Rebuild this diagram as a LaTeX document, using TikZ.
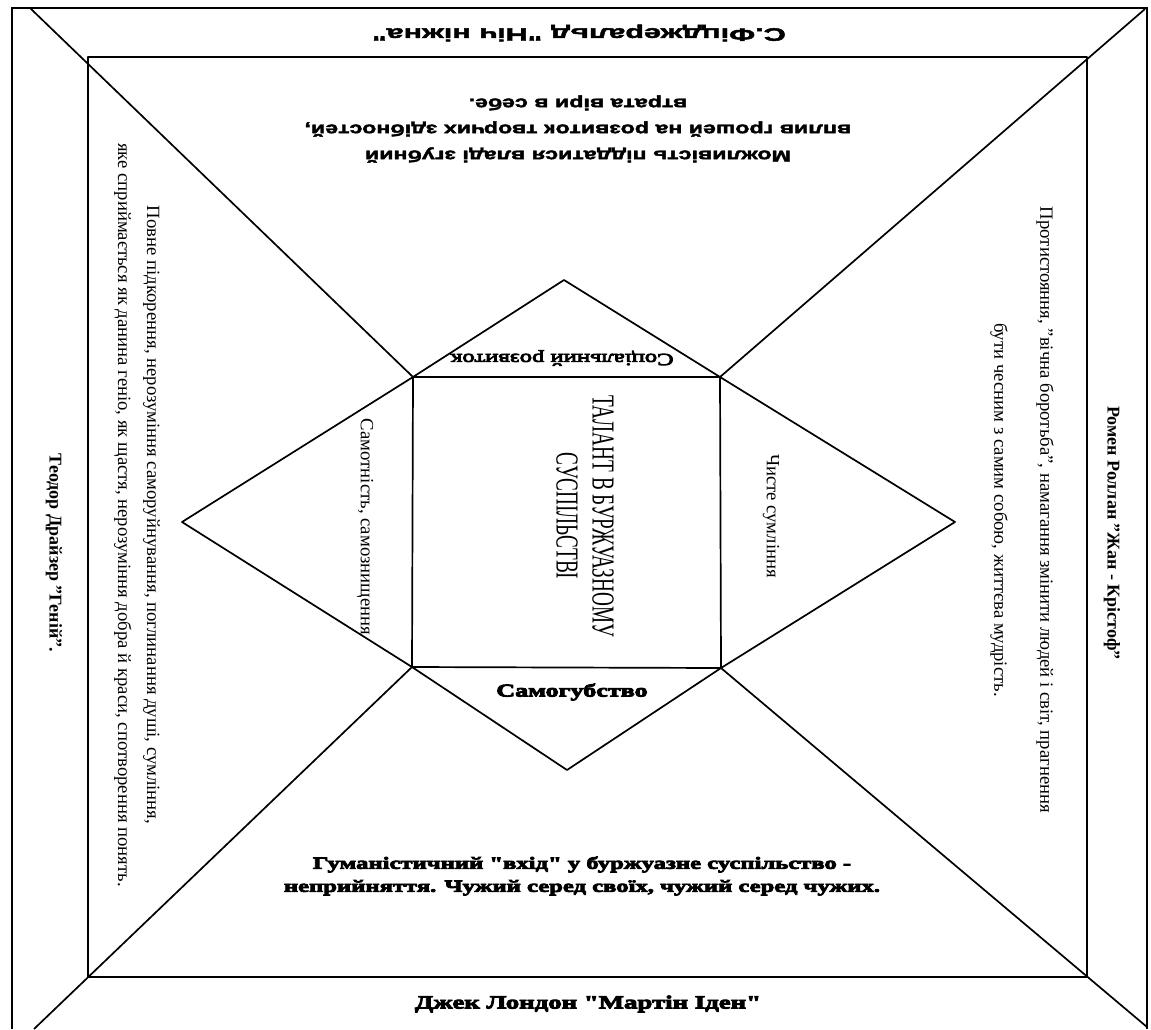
\documentclass[tikz,border=0pt]{standalone}
\usepackage{fontspec}
\setmainfont{Liberation Serif}
\newfontfamily\widesans[FakeStretch=1.45,FakeBold=2.5]{Liberation Sans}
\newfontfamily\widersans[FakeStretch=1.7,FakeBold=2.5]{Liberation Sans}
\newfontfamily\wideserif[FakeStretch=1.45,FakeBold=5]{Liberation Serif}
\newfontfamily\narrowserif[FakeStretch=0.6]{Liberation Serif}

\begin{document}
\begin{tikzpicture}[x=1pt, y=-1pt,
    frame/.style={line width=2.4pt},
    edge/.style={line width=1.7pt, line join=round},
    sidetext/.style={rotate=-90, align=center, inner sep=0pt,
                     font=\fontsize{18.7}{22}\selectfont},
    sidename/.style={rotate=-90, inner sep=0pt,
                     font=\fontsize{18}{22}\selectfont\bfseries},
    toptext/.style={rotate=180, align=center, inner sep=0pt,
                    font=\widesans\bfseries\fontsize{16}{26}\selectfont},
    heavy/.style={align=center, inner sep=0pt,
                  font=\wideserif\bfseries\fontsize{18}{23}\selectfont},
    theme/.style={rotate=-90, align=center, inner sep=0pt,
                  font=\narrowserif\fontsize{32}{36}\selectfont},
  ]
  \useasboundingbox (0,0) rectangle (1151,1029);

  % Frames
  \coordinate (oTL) at (30,8);
  \coordinate (oTR) at (1145,9);
  \coordinate (oBL) at (34,1029);
  \coordinate (oBR) at (1147,1027);
  \draw[frame] (12,1029) -- (12,8) -- (1147,8) -- (1147,1029);
  \draw[edge] (88,57) rectangle (1087,977);

  % Core square and its triangles
  \coordinate (sqTL) at (413,377);
  \coordinate (sqTR) at (720,377);
  \coordinate (sqBR) at (721,668);
  \coordinate (sqBL) at (412,667);
  \coordinate (apTop) at (564,280);
  \coordinate (apRight) at (955,522);
  \coordinate (apBottom) at (567,770);
  \coordinate (apLeft) at (182,522);
  \draw[edge] (sqTL) -- (sqTR) -- (sqBR) -- (sqBL) -- cycle;
  \draw[edge] (sqTL) -- (apTop) -- (sqTR) -- (apRight) -- (sqBR)
    -- (apBottom) -- (sqBL) -- (apLeft) -- cycle;

  % Diagonals
  \draw[edge] (oTL) -- (sqTL);
  \draw[edge] (oTR) -- (sqTR);
  \draw[edge] (oBL) -- (sqBL);
  \draw[edge] (oBR) -- (sqBR);

  % Books
  \node[rotate=180, inner sep=0pt,
        font=\widersans\bfseries\fontsize{18}{22}\selectfont]
        (fitz) at (579,33) {С.Фіцджеральд "Ніч ніжна"};
  \node[sidename] (rolland) at (1112,533) {Ромен Роллан "Жан - Крістоф"};
  \node[heavy, font=\wideserif\bfseries\fontsize{18.5}{23}\selectfont]
        (london) at (588,1004) {Джек Лондон "Мартін Іден"};
  \node[sidename] (dreiser) at (54,553) {Теодор Драйзер "Геній".};

  % Ideas
  \node[toptext] (fitzidea) at (578,129)
    {Можливість піддатися владі згубний\\
     вплив грошей на розвиток творчих здібностей,\\
     втрата віри в себе.};
  \node[sidetext, font=\fontsize{18.7}{46}\selectfont] (rollidea) at (1022,510)
    {Протистояння, "вічна боротьба", намагання змінити людей і світ, прагнення\\
     бути чесним з самим собою, життєва мудрість.};
  \node[heavy, font=\wideserif\bfseries\fontsize{17}{23}\selectfont]
    (londonidea) at (582,876)
    {Гуманістичний "вхід" у буржуазне суспільство -\\
     неприйняття. Чужий серед своїх, чужий серед чужих.};
  \node[sidetext, font=\fontsize{18.7}{29}\selectfont] (dreisidea) at (137,515)
    {Повне підкорення, нерозуміння саморуйнування, поглинання душі, сумління,\\
     яке сприймається як данина геніо, як щастя, нерозуміння добра й краси, спотворення понять.};

  % Centre
  \node[theme] (talent) at (585,516) {ТАЛАНТ В БУРЖУАЗНОМУ\\СУСПІЛЬСТВІ};
  \node[heavy, rotate=180, font=\wideserif\fontsize{17}{22}\selectfont]
    (social) at (562,358) {Соціальний розвиток};
  \node[sidetext] (conscience) at (771,516) {Чисте сумління};
  \node[heavy] (suicide) at (572,692) {Самогубство};
  \node[sidetext] (lonely) at (365,527) {Самотність, самознищення};
\end{tikzpicture}
\end{document}
